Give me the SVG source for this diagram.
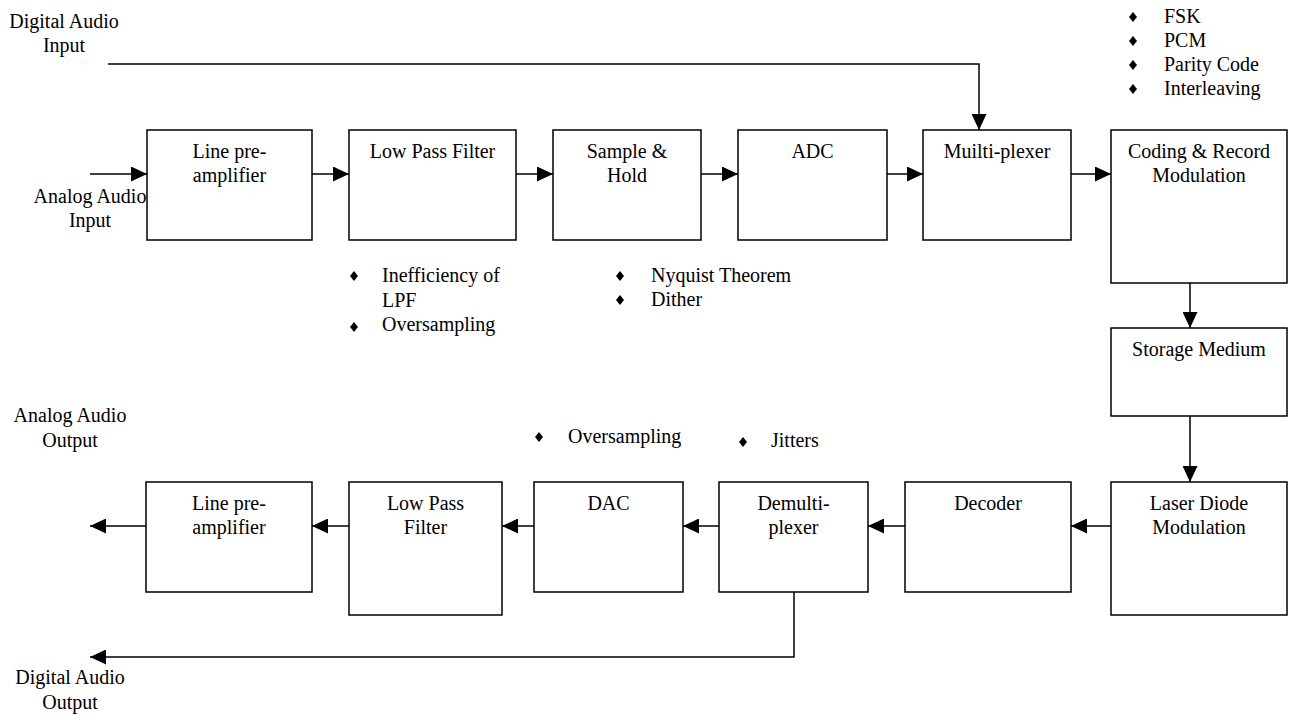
<svg xmlns="http://www.w3.org/2000/svg" width="1291" height="716" viewBox="0 0 1291 716">
<style>
.box{fill:#fff;stroke:#000;stroke-width:1.5}
.t{font-family:"Liberation Serif","Times New Roman",serif;font-size:20px;fill:#000}
.c{text-anchor:middle}
.ln{fill:none;stroke:#000;stroke-width:1.5}
.d{fill:#000}
</style>
<defs>
<marker id="ah" markerUnits="userSpaceOnUse" markerWidth="16" markerHeight="15" refX="16" refY="7.5" orient="auto">
<path d="M0,0 L16,7.5 L0,15 z" fill="#000"/>
</marker>
<polygon id="dia" points="0,-5 4,0 0,5 -4,0"/>
</defs>
<rect width="1291" height="716" fill="#fff"/>

<g id="connectors">
<line class="ln" x1="90" y1="174" x2="147" y2="174" marker-end="url(#ah)"/>
<line class="ln" x1="312" y1="174" x2="349" y2="174" marker-end="url(#ah)"/>
<line class="ln" x1="516" y1="174" x2="553" y2="174" marker-end="url(#ah)"/>
<line class="ln" x1="701" y1="174" x2="738" y2="174" marker-end="url(#ah)"/>
<line class="ln" x1="887" y1="174" x2="923" y2="174" marker-end="url(#ah)"/>
<line class="ln" x1="1071" y1="174" x2="1111" y2="174" marker-end="url(#ah)"/>
<polyline class="ln" points="108,64 979,64 979,130" marker-end="url(#ah)"/>
<line class="ln" x1="1190" y1="283" x2="1190" y2="328" marker-end="url(#ah)"/>
<line class="ln" x1="1190" y1="416" x2="1190" y2="482" marker-end="url(#ah)"/>
<line class="ln" x1="1111" y1="526" x2="1071" y2="526" marker-end="url(#ah)"/>
<line class="ln" x1="905" y1="526" x2="868" y2="526" marker-end="url(#ah)"/>
<line class="ln" x1="719" y1="526" x2="683" y2="526" marker-end="url(#ah)"/>
<line class="ln" x1="534" y1="526" x2="502" y2="526" marker-end="url(#ah)"/>
<line class="ln" x1="349" y1="526" x2="312" y2="526" marker-end="url(#ah)"/>
<line class="ln" x1="146" y1="526" x2="90" y2="526" marker-end="url(#ah)"/>
<polyline class="ln" points="794,592 794,657 90,657" marker-end="url(#ah)"/>
</g>

<g id="label-digital-in">
<text class="t c" x="64" y="28">Digital Audio</text>
<text class="t c" x="64" y="52">Input</text>
</g>
<g id="label-analog-in">
<text class="t c" x="90" y="203">Analog Audio</text>
<text class="t c" x="90" y="227">Input</text>
</g>
<g id="label-analog-out">
<text class="t c" x="70" y="422">Analog Audio</text>
<text class="t c" x="70" y="447">Output</text>
</g>
<g id="label-digital-out">
<text class="t c" x="70" y="684">Digital Audio</text>
<text class="t c" x="70" y="709">Output</text>
</g>

<g id="n-linepre-in">
<rect class="box" x="147" y="130" width="165" height="110"/>
<text class="t c" x="229.5" y="158">Line pre-</text>
<text class="t c" x="229.5" y="182">amplifier</text>
</g>
<g id="n-lpf-in">
<rect class="box" x="349" y="130" width="167" height="110"/>
<text class="t c" x="432.5" y="158">Low Pass Filter</text>
</g>
<g id="n-sh">
<rect class="box" x="553" y="130" width="148" height="110"/>
<text class="t c" x="627" y="158">Sample &amp;</text>
<text class="t c" x="627" y="182">Hold</text>
</g>
<g id="n-adc">
<rect class="box" x="738" y="130" width="149" height="110"/>
<text class="t c" x="812.5" y="158">ADC</text>
</g>
<g id="n-mux">
<rect class="box" x="923" y="130" width="148" height="110"/>
<text class="t c" x="997" y="158">Muilti-plexer</text>
</g>
<g id="n-coding">
<rect class="box" x="1111" y="130" width="176" height="153"/>
<text class="t c" x="1199" y="158">Coding &amp; Record</text>
<text class="t c" x="1199" y="182">Modulation</text>
</g>
<g id="n-storage">
<rect class="box" x="1111" y="328" width="176" height="88"/>
<text class="t c" x="1199" y="356">Storage Medium</text>
</g>
<g id="n-laser">
<rect class="box" x="1111" y="482" width="176" height="133"/>
<text class="t c" x="1199" y="510">Laser Diode</text>
<text class="t c" x="1199" y="534">Modulation</text>
</g>
<g id="n-decoder">
<rect class="box" x="905" y="482" width="166" height="110"/>
<text class="t c" x="988" y="510">Decoder</text>
</g>
<g id="n-demux">
<rect class="box" x="719" y="482" width="149" height="110"/>
<text class="t c" x="793.5" y="510">Demulti-</text>
<text class="t c" x="793.5" y="534">plexer</text>
</g>
<g id="n-dac">
<rect class="box" x="534" y="482" width="149" height="110"/>
<text class="t c" x="608.5" y="510">DAC</text>
</g>
<g id="n-lpf-out">
<rect class="box" x="349" y="482" width="153" height="133"/>
<text class="t c" x="425.5" y="510">Low Pass</text>
<text class="t c" x="425.5" y="534">Filter</text>
</g>
<g id="n-linepre-out">
<rect class="box" x="146" y="482" width="166" height="110"/>
<text class="t c" x="229" y="510">Line pre-</text>
<text class="t c" x="229" y="534">amplifier</text>
</g>

<g id="notes-coding">
<use href="#dia" class="d" x="1133" y="17"/>
<use href="#dia" class="d" x="1133" y="41"/>
<use href="#dia" class="d" x="1133" y="65"/>
<use href="#dia" class="d" x="1133" y="89"/>
<text class="t" x="1164" y="23">FSK</text>
<text class="t" x="1164" y="47">PCM</text>
<text class="t" x="1164" y="71">Parity Code</text>
<text class="t" x="1164" y="95">Interleaving</text>
</g>
<g id="notes-lpf">
<use href="#dia" class="d" x="354" y="276"/>
<use href="#dia" class="d" x="354" y="327"/>
<text class="t" x="382" y="282">Inefficiency of</text>
<text class="t" x="382" y="307">LPF</text>
<text class="t" x="382" y="331">Oversampling</text>
</g>
<g id="notes-sh">
<use href="#dia" class="d" x="620" y="276"/>
<use href="#dia" class="d" x="620" y="300"/>
<text class="t" x="651" y="282">Nyquist Theorem</text>
<text class="t" x="651" y="306">Dither</text>
</g>
<g id="notes-dac">
<use href="#dia" class="d" x="539" y="437"/>
<text class="t" x="568" y="443">Oversampling</text>
</g>
<g id="notes-demux">
<use href="#dia" class="d" x="743" y="442"/>
<text class="t" x="771" y="447">Jitters</text>
</g>
</svg>
